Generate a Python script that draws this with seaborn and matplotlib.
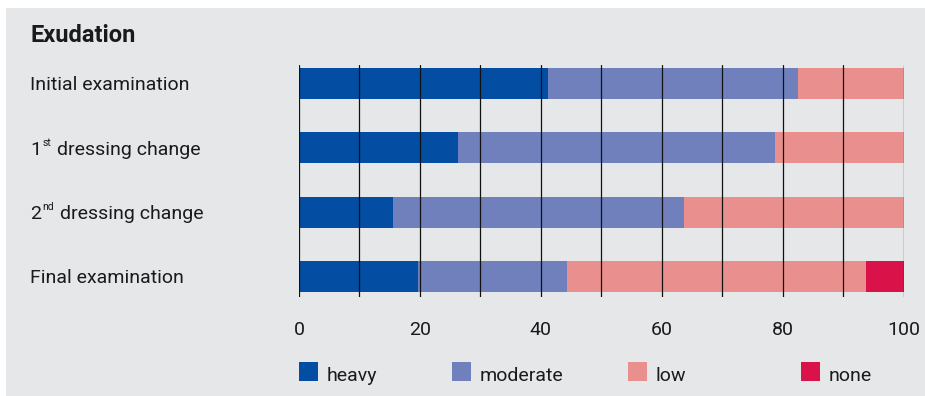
import matplotlib
matplotlib.use("Agg")
import matplotlib.pyplot as plt
import matplotlib.transforms as mtransforms
from matplotlib.patches import Rectangle
import numpy as np
import pandas as pd
import seaborn as sns

# Exudation level shares (%) at each examination
stages = ["Initial examination", "1st dressing change", "2nd dressing change", "Final examination"]
# row labels split as (lead, superscript, rest)
stage_parts = [("Initial examination", "", ""), ("1", "st", "dressing change"),
               ("2", "nd", "dressing change"), ("Final examination", "", "")]
heavy = [41.2, 26.3, 15.5, 19.7]
moderate = [41.3, 52.4, 48.2, 24.6]
low = [17.5, 21.3, 36.3, 49.5]
none = [0.0, 0.0, 0.0, 6.2]
levels = ["heavy", "moderate", "low", "none"]
colors = {"heavy": "#034ea2", "moderate": "#6f80bd", "low": "#e9908e", "none": "#d9134a"}
xticks = [0, 20, 40, 60, 80, 100]

sns.set_theme(style="white")
FONT = ["Roboto", "DejaVu Sans"]
plt.rcParams["font.family"] = FONT

PANEL = "#e6e7e9"
TEXT = "#1a1a1a"
FS = 14

W, H = 925, 396
fig = plt.figure(figsize=(W / 100, H / 100), dpi=100, facecolor="white")
fig.patches.append(Rectangle((6 / W, 0), 1, (H - 8) / H, transform=fig.transFigure,
                             facecolor=PANEL, edgecolor="none", zorder=-5))

ax = fig.add_axes([299 / W, 1 - 297 / H, (903.7 - 299) / W, (297 - 65) / H])
ax.set_facecolor("none")
ax.set_zorder(2)

df = pd.DataFrame({"stage": stages, "heavy": heavy, "moderate": moderate,
                   "low": low, "none": none})
cum = df[levels].cumsum(axis=1)

# stacked bars: draw cumulative totals from the outermost segment inward
for lvl in reversed(levels):
    sns.barplot(x=cum[lvl], y=df["stage"], color=colors[lvl], width=0.48,
                saturation=1, orient="h", ax=ax, zorder=2,
                linewidth=0, edgecolor="none")

ax.set_xlim(0, 100)
ax.set_ylim(3.317, -0.286)
ax.set_xlabel("")
ax.set_ylabel("")

# vertical grid lines over the bars
for gx in range(0, 101, 10):
    ax.axvline(gx, color="#111111", lw=0.9, zorder=5)

for s in ax.spines.values():
    s.set_visible(False)

ax.set_xticks(xticks)
ax.set_xticklabels([str(t) for t in xticks], fontsize=FS, color=TEXT)
ax.tick_params(axis="x", length=0, pad=17)
ax.set_yticks(range(len(stages)))
ax.set_yticklabels([])
ax.tick_params(axis="y", length=0)

# row labels, left aligned, baseline slightly below the bar centre
row_tr = mtransforms.blended_transform_factory(fig.transFigure, ax.transData) + \
    mtransforms.ScaledTranslation(0, -6.7 / 100, fig.dpi_scale_trans)
for i, (lead, sup, rest) in enumerate(stage_parts):
    t1 = ax.text(30 / W, i, lead, transform=row_tr, fontsize=FS, color=TEXT,
                 ha="left", va="baseline", clip_on=False)
    if sup:
        t2 = ax.annotate(sup, xy=(1, i), xycoords=(t1, row_tr), xytext=(0.8, 6.3),
                         textcoords="offset points", fontsize=7.5, color=TEXT,
                         ha="left", va="baseline", annotation_clip=False)
        ax.annotate(rest, xy=(1, i), xycoords=(t2, row_tr), xytext=(4.2, 0),
                    textcoords="offset points", fontsize=FS, color=TEXT,
                    ha="left", va="baseline", annotation_clip=False)

fig.text(30 / W, 1 - 42 / H, "Exudation", fontsize=17, fontweight="bold",
         color=TEXT, va="baseline", ha="left")

# legend row
legend_x = [299, 452, 628, 801]
for lvl, lx in zip(levels, legend_x):
    fig.patches.append(Rectangle((lx / W, 1 - 381 / H), 19 / W, 19 / H,
                                 transform=fig.transFigure, facecolor=colors[lvl],
                                 edgecolor="none", zorder=3))
    fig.text((lx + 27.5) / W, 1 - 381 / H, lvl, fontsize=FS, color=TEXT,
             va="baseline", ha="left")

fig.savefig("out.png", dpi=100, facecolor=fig.get_facecolor())
